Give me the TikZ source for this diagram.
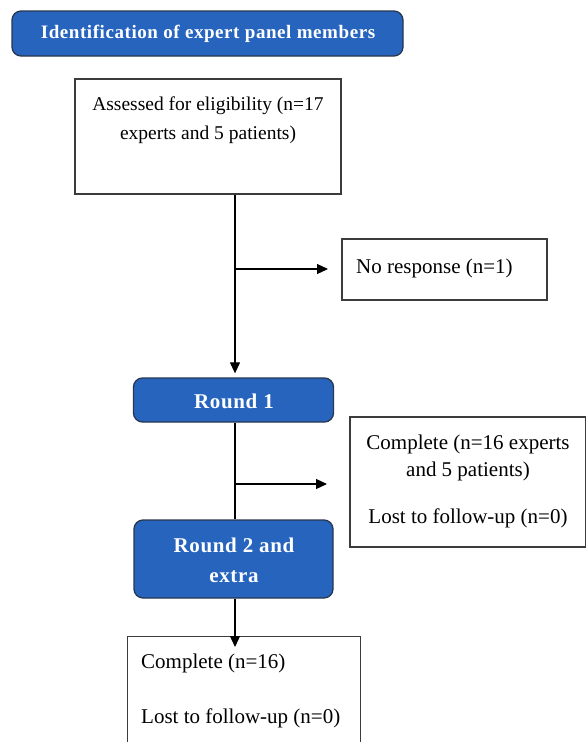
\documentclass[tikz,border=0pt]{standalone}
\usepackage{fontspec}
\setmainfont{Liberation Serif}
\newfontfamily\spacedbold[LetterSpace=3]{Liberation Serif}
\usetikzlibrary{arrows.meta}
\definecolor{panelblue}{RGB}{38,100,190}
\definecolor{paneledge}{RGB}{40,55,80}
\definecolor{boxedge}{RGB}{60,60,60}
\tikzset{
  bluebox/.style={draw=paneledge, line width=1.3pt, fill=panelblue, rounded corners=9pt, inner sep=0pt},
  whitebox/.style={draw=boxedge, line width=1.2pt, fill=white, inner sep=0pt},
  bluetext/.style={text=white, inner sep=0pt, align=center},
  plain/.style={inner sep=0pt, align=center, font=\fontsize{21}{27}\selectfont},
  flow/.style={line width=1.2pt, -{Triangle[length=11pt,width=10pt]}},
  trunk/.style={line width=1.2pt}
}
\begin{document}
\begin{tikzpicture}[x=1pt,y=-1pt]
\useasboundingbox (0,0) rectangle (587,742);
% title
\node[bluebox, minimum width=391pt, minimum height=45pt] (title) at (207.5,33.5) {};
\node[bluetext, font=\spacedbold\bfseries\fontsize{19}{22}\selectfont] (titletext) at (208,34) {Identification of expert panel members};
% assessed
\node[whitebox, minimum width=266pt, minimum height=115pt] (assess) at (208,136.5) {};
\node[plain, font=\fontsize{19.5}{29}\selectfont] (assesstext) at (208,120) {Assessed for eligibility (n=17\\experts and 5 patients)};
% no response
\node[whitebox, minimum width=205pt, minimum height=61pt] (nores) at (444.5,269.5) {};
\node[plain, anchor=west] (norestext) at (356,268) {No response (n=1)};
% round 1
\node[bluebox, minimum width=200pt, minimum height=44pt] (r1) at (233.5,400) {};
\node[bluetext, font=\spacedbold\bfseries\fontsize{21}{30}\selectfont] (r1text) at (234,401) {Round 1};
% complete box right
\node[whitebox, minimum width=235.5pt, minimum height=130pt] (comp1) at (467.75,482) {};
\node[plain] (comp1text) at (468,458) {Complete (n=16 experts\\and 5 patients)};
\node[plain] (lost1text) at (468,518) {Lost to follow-up (n=0)};
% round 2
\node[bluebox, minimum width=199pt, minimum height=78pt] (r2) at (233.5,559) {};
\node[bluetext, font=\spacedbold\bfseries\fontsize{21}{30}\selectfont] (r2text) at (234,560) {Round 2 and\\extra};
% bottom box
\node[whitebox, minimum width=233pt, minimum height=130pt, anchor=north west] (comp2) at (127,636) {};
\node[plain, anchor=west] (comp2text) at (141,663) {Complete (n=16)};
\node[plain, anchor=west] (lost2text) at (141,718) {Lost to follow-up (n=0)};
% connectors
\coordinate (b1) at (235,269);
\coordinate (b1end) at (328,269);
\coordinate (b2) at (235,484);
\coordinate (b2end) at (327,484);
\draw[flow] (assess.south -| b1) -- ([yshift=4pt]r1.north -| b1);
\draw[flow] (b1) -- (b1end);
\draw[trunk] (r1.south -| b2) -- (r2.north -| b2);
\draw[flow] (b2) -- (b2end);
\draw[flow] (r2.south -| b2) -- ([yshift=-11pt]comp2.north -| b2);
\end{tikzpicture}
\end{document}
